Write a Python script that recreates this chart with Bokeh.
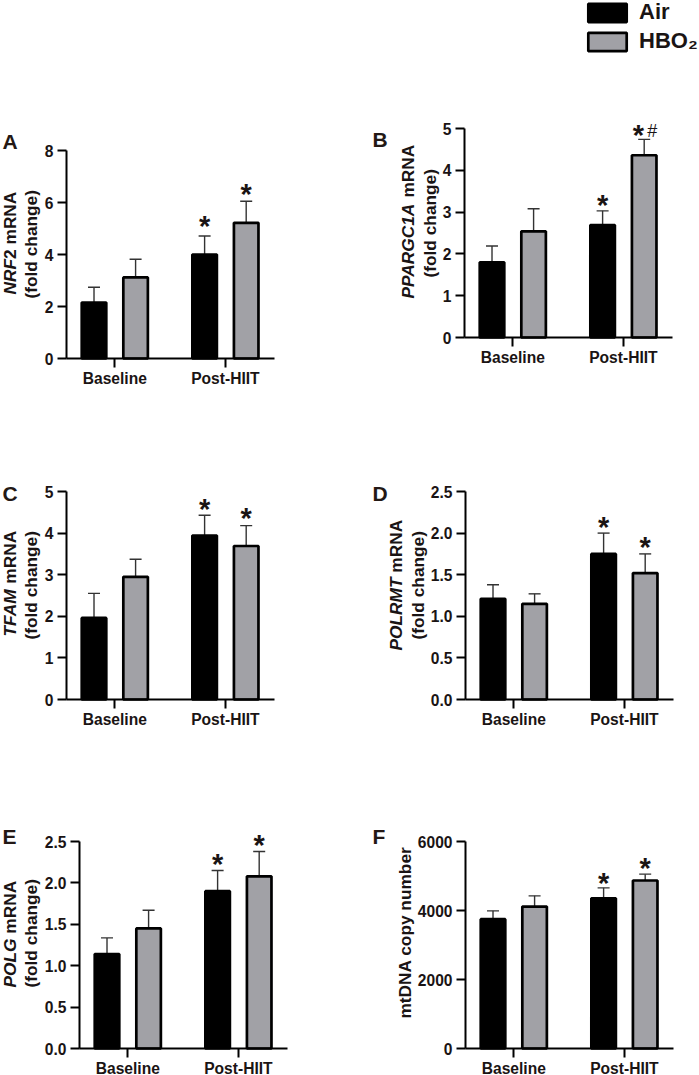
from bokeh.core.properties import value
from bokeh.embed import file_html
from bokeh.layouts import column, row
from bokeh.models import (ColumnDataSource, FixedTicker, Label, Legend, LegendItem,
                          Range1d, TeeHead, Whisker)
from bokeh.plotting import figure
from bokeh.resources import INLINE

# order in every panel: Baseline Air, Baseline HBO2, Post-HIIT Air, Post-HIIT HBO2
groups = ["Baseline", "Post-HIIT"]
series = ["Air", "HBO\u2082"]

nrf2_means = [2.15, 3.12, 4.0, 5.22]
nrf2_tops = [2.74, 3.82, 4.71, 6.05]
nrf2_stars = [5.24, 6.46]
nrf2_ticks = [0, 2, 4, 6, 8]
nrf2_labels = ["0", "2", "4", "6", "8"]

ppargc1a_means = [1.80, 2.54, 2.69, 4.36]
ppargc1a_tops = [2.19, 3.08, 3.03, 4.74]
ppargc1a_stars = [3.26, 4.92]
ppargc1a_ticks = [0, 1, 2, 3, 4, 5]
ppargc1a_labels = ["0", "1", "2", "3", "4", "5"]

tfam_means = [1.96, 2.95, 3.94, 3.69]
tfam_tops = [2.55, 3.37, 4.43, 4.18]
tfam_stars = [4.67, 4.44]
tfam_ticks = [0, 1, 2, 3, 4, 5]
tfam_labels = ["0", "1", "2", "3", "4", "5"]

polrmt_means = [1.21, 1.15, 1.75, 1.52]
polrmt_tops = [1.38, 1.27, 2.0, 1.75]
polrmt_stars = [2.115, 1.875]
polrmt_ticks = [0, 0.5, 1, 1.5, 2, 2.5]
polrmt_labels = ["0.0", "0.5", "1.0", "1.5", "2.0", "2.5"]

polg_means = [1.14, 1.45, 1.90, 2.08]
polg_tops = [1.336, 1.67, 2.15, 2.38]
polg_stars = [2.267, 2.5]
polg_ticks = [0, 0.5, 1, 1.5, 2, 2.5]
polg_labels = ["0.0", "0.5", "1.0", "1.5", "2.0", "2.5"]

mtdna_means = [3750, 4115, 4355, 4870]
mtdna_tops = [3990, 4425, 4657, 5053]
mtdna_stars = [4899, 5333]
mtdna_ticks = [0, 2000, 4000, 6000]
mtdna_labels = ["0", "2000", "4000", "6000"]

FONT = "Liberation Sans"
INK = "#1a1414"
GRAY = "#a1a1a6"
TITLE_SIZE = 17.3
STROKE = 2.7
UNIT = 110.6  # pixels from one group to the next
bar_x = [0.812, 1.188, 1.812, 2.188]
star_x = [1.812, 2.188]


def text_label(p, x, y, text, size, style="bold", color=INK, angle=0):
    p.add_layout(Label(x=x, y=y, x_units="screen", y_units="screen", text=text,
                       text_font=FONT, text_font_size=f"{size}px", text_font_style=style,
                       text_color=color, text_align="left",
                       text_baseline="middle" if angle else "alphabetic",
                       angle=angle, angle_units="deg"))


def panel(means, tops, stars, ticks, tick_labels, box, band, letter, letter_pos, titles, stars_x=star_x):
    # box: axis x, top and bottom tick of the plot, band: the figure's place, page pixels
    left, top, bottom = box
    band_x, band_y, band_w, band_h = band
    ymax = ticks[-1]
    scale = (bottom - top) / ymax
    x0 = 1 - (left + 48.3 - band_x) / UNIT
    p = figure(width=band_w, height=band_h, output_backend="svg", toolbar_location=None,
               x_range=Range1d(x0, x0 + band_w / UNIT),
               y_range=Range1d(-(band_y + band_h - bottom) / scale, (bottom - band_y) / scale),
               min_border=0)
    p.outline_line_color = None
    p.grid.visible = False

    black = p.vbar(x=bar_x[0::2], top=means[0::2], width=0.222, fill_color="black",
                   line_color="black", line_width=STROKE)
    gray = p.vbar(x=bar_x[1::2], top=means[1::2], width=0.222, fill_color=GRAY,
                  line_color="black", line_width=STROKE)

    src = ColumnDataSource(data=dict(x=bar_x, mean=means, top=tops))
    p.add_layout(Whisker(base="x", lower="mean", upper="top", source=src, lower_head=None,
                         upper_head=TeeHead(size=12, line_color="#333333", line_width=1.4),
                         line_color="#333333", line_width=1.4))

    p.text(x=stars_x, y=stars, text=["*", "*"], text_font=value(FONT), text_font_size="29px",
           text_font_style="bold", text_color=INK, text_align="center",
           text_baseline="middle", y_offset=3.5)

    x_left = x0 + (left - band_x) / UNIT
    p.yaxis.fixed_location = x_left
    p.xaxis.fixed_location = 0
    p.yaxis.ticker = FixedTicker(ticks=ticks)
    p.yaxis.major_label_overrides = dict(zip(ticks, tick_labels))
    p.yaxis.bounds = (0, ymax)
    p.xaxis.ticker = FixedTicker(ticks=[1, 2])
    p.xaxis.major_label_overrides = {1: groups[0], 2: groups[1]}
    p.xaxis.bounds = (x_left, x_left + 208 / UNIT)
    for ax in (p.xaxis, p.yaxis):
        ax.axis_line_width = 2
        ax.axis_line_color = "black"
        ax.major_tick_line_width = 2
        ax.major_tick_line_color = "black"
        ax.major_tick_in = 0
        ax.major_tick_out = 9
        ax.minor_tick_line_color = None
        ax.major_label_text_font = FONT
        ax.major_label_text_font_style = "bold"
        ax.major_label_text_font_size = "15.6px"
        ax.major_label_text_color = INK
    p.yaxis.major_label_standoff = 4
    p.xaxis.major_label_standoff = 2

    page_bottom = band_y + band_h
    text_label(p, letter_pos[0] - band_x, page_bottom - letter_pos[1], letter, 21, color="#231815")
    for tx, ty, italic, rest, advance in titles:
        if italic:
            text_label(p, tx - band_x, page_bottom - ty, italic, TITLE_SIZE, style="bold italic", angle=90)
        text_label(p, tx - band_x, page_bottom - (ty - advance), rest, TITLE_SIZE, angle=90)
    return p, black, gray


a, _, _ = panel(nrf2_means, nrf2_tops, nrf2_stars, nrf2_ticks, nrf2_labels,
                (66, 150, 358), (0, 0, 350, 430), "A", (2, 141),
                [(9.5, 294, "NRF", "2 mRNA", 35.6), (30, 298, "", "(fold change)", 0)])
b, air, hbo = panel(ppargc1a_means, ppargc1a_tops, ppargc1a_stars, ppargc1a_ticks, ppargc1a_labels,
                    (464, 128, 337), (350, 0, 349, 430), "B", (372, 139),
                    [(407, 298, "PPARGC1A", "mRNA", 100.9), (429, 277, "", "(fold change)", 0)],
                    stars_x=[1.812, 2.135])
c, _, _ = panel(tfam_means, tfam_tops, tfam_stars, tfam_ticks, tfam_labels,
                (66, 491, 699), (0, 430, 350, 355), "C", (2, 493),
                [(9.5, 636, "TFAM", "mRNA", 52.8), (30, 639, "", "(fold change)", 0)])
d, _, _ = panel(polrmt_means, polrmt_tops, polrmt_stars, polrmt_ticks, polrmt_labels,
                (465, 491, 699), (350, 430, 349, 355), "D", (372, 493),
                [(395, 650, "POLRMT", "mRNA", 77.8), (417, 639, "", "(fold change)", 0)])
e, _, _ = panel(polg_means, polg_tops, polg_stars, polg_ticks, polg_labels,
                (79, 841, 1048), (0, 785, 350, 290), "E", (2, 836),
                [(9.5, 987, "POLG", "mRNA", 53.8), (30, 987, "", "(fold change)", 0)])
f, _, _ = panel(mtdna_means, mtdna_tops, mtdna_stars, mtdna_ticks, mtdna_labels,
                (465, 841, 1048), (350, 785, 349, 290), "F", (372, 836),
                [(404, 1018, "", "mtDNA copy number", 0)])

# hash mark next to the star over the last PPARGC1A bar
b.text(x=[2.26], y=[4.95], text=["#"], text_font=value(FONT), text_font_size="18px",
       text_color=INK, text_align="center", text_baseline="middle")

legend = Legend(items=[LegendItem(label=series[0], renderers=[air]),
                       LegendItem(label=series[1], renderers=[hbo])],
                location=(233, 376), orientation="vertical", border_line_color=None,
                background_fill_alpha=0, padding=0, margin=0, spacing=3,
                glyph_width=48, glyph_height=23, label_standoff=8,
                label_text_font=FONT, label_text_font_style="bold",
                label_text_font_size="22px", label_text_color=INK)
b.add_layout(legend, "center")

page = row(column(a, c, e, spacing=0), column(b, d, f, spacing=0), spacing=0)

open("out.html", "w").write(file_html(page, INLINE))
